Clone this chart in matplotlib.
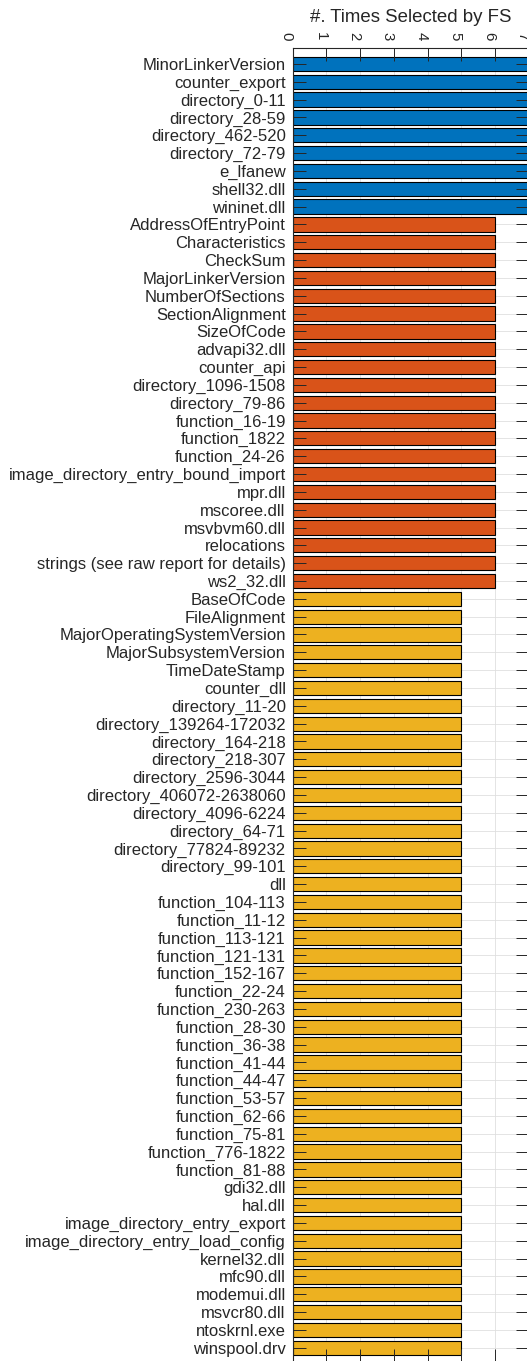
import matplotlib
matplotlib.use("Agg")
import matplotlib.pyplot as plt
import matplotlib.transforms as mtransforms

blue_feats = ["MinorLinkerVersion", "counter_export", "directory_0-11", "directory_28-59",
              "directory_462-520", "directory_72-79", "e_lfanew", "shell32.dll", "wininet.dll"]
blue_vals = [7] * len(blue_feats)

orange_feats = ["AddressOfEntryPoint", "Characteristics", "CheckSum", "MajorLinkerVersion",
                "NumberOfSections", "SectionAlignment", "SizeOfCode", "advapi32.dll",
                "counter_api", "directory_1096-1508", "directory_79-86", "function_16-19",
                "function_1822", "function_24-26", "image_directory_entry_bound_import",
                "mpr.dll", "mscoree.dll", "msvbvm60.dll", "relocations",
                "strings (see raw report for details)", "ws2_32.dll"]
orange_vals = [6] * len(orange_feats)

yellow_feats = ["BaseOfCode", "FileAlignment", "MajorOperatingSystemVersion",
                "MajorSubsystemVersion", "TimeDateStamp", "counter_dll", "directory_11-20",
                "directory_139264-172032", "directory_164-218", "directory_218-307",
                "directory_2596-3044", "directory_406072-2638060", "directory_4096-6224",
                "directory_64-71", "directory_77824-89232", "directory_99-101", "dll",
                "function_104-113", "function_11-12", "function_113-121", "function_121-131",
                "function_152-167", "function_22-24", "function_230-263", "function_28-30",
                "function_36-38", "function_41-44", "function_44-47", "function_53-57",
                "function_62-66", "function_75-81", "function_776-1822", "function_81-88",
                "gdi32.dll", "hal.dll", "image_directory_entry_export",
                "image_directory_entry_load_config", "kernel32.dll", "mfc90.dll",
                "modemui.dll", "msvcr80.dll", "ntoskrnl.exe", "winspool.drv"]
yellow_vals = [5] * len(yellow_feats)

x_ticks = [0, 1, 2, 3, 4, 5, 6, 7]
title = "#. Times Selected by FS"

plt.rcParams['font.family'] = ['Liberation Sans', 'DejaVu Sans']
TXT = "#262626"

fig = plt.figure(figsize=(5.27, 13.61), dpi=100)
W, H = 527, 1361
left_px, right_px = 292.7, 528.7
top_px, bot_px = 47.5, 1362.0
ax = fig.add_axes([left_px / W, (H - bot_px) / H, (right_px - left_px) / W, (bot_px - top_px) / H])

labels = blue_feats + orange_feats + yellow_feats
groups = [(blue_feats, blue_vals, "#0072BD"),
          (orange_feats, orange_vals, "#D95319"),
          (yellow_feats, yellow_vals, "#EDB120")]

n = len(labels)
pos = list(range(n))

# grid (under bars)
for xv in x_ticks:
    ax.axvline(xv, color="#dfdfdf", lw=0.6, zorder=0)
for yv in pos:
    ax.axhline(yv, color="#dfdfdf", lw=0.6, zorder=0)

i = 0
for feats, vals, col in groups:
    ys = pos[i:i + len(feats)]
    ax.barh(ys, vals, height=0.8, color=col, edgecolor="black", linewidth=0.8, zorder=2)
    i += len(feats)

ax.set_yticks(pos)
ax.set_yticklabels(labels, fontsize=12, color=TXT)
ax.set_ylim(72.8, -0.92)
ax.set_xlim(0, 7)
ax.set_xticks(x_ticks)
ax.set_xticklabels([str(v) for v in x_ticks], rotation=270, fontsize=10.8, color=TXT)

ax.tick_params(axis="x", which="both", direction="in", length=9.5, width=0.7, color=TXT,
               top=True, bottom=True, labeltop=True, labelbottom=False, pad=5)
ax.tick_params(axis="y", which="both", direction="in", length=9.5, width=0.7, color=TXT,
               left=True, right=True, pad=5)
shift = mtransforms.ScaledTranslation(-6 / 100, 0, fig.dpi_scale_trans)
for lbl in ax.get_xticklabels():
    lbl.set_va("bottom")
    lbl.set_ha("center")
    lbl.set_transform(lbl.get_transform() + shift)
for sp in ax.spines.values():
    sp.set_color(TXT)
    sp.set_linewidth(0.8)
    sp.set_zorder(5)
for t in ax.yaxis.get_major_ticks() + ax.xaxis.get_major_ticks():
    t.tick1line.set_zorder(4)
    t.tick2line.set_zorder(4)

ax.set_title(title, fontsize=13.4, color=TXT, y=1 + (top_px - 21.7) / (bot_px - top_px), pad=0)
ax.set_axisbelow(False)

fig.savefig("out.png", dpi=100)
